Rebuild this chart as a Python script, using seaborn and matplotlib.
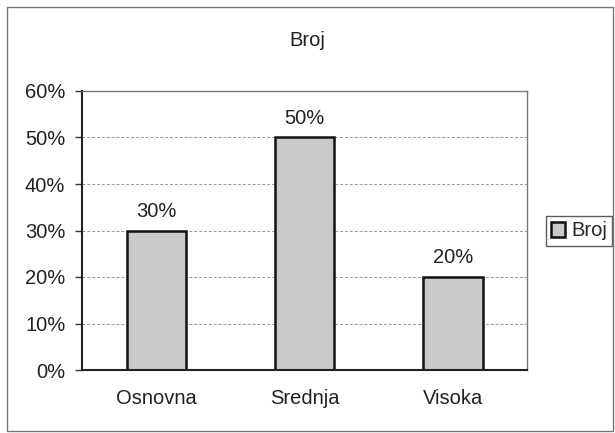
import matplotlib
matplotlib.use("Agg")
import matplotlib.pyplot as plt
import seaborn as sns
import pandas as pd
from matplotlib.patches import Rectangle
from matplotlib.ticker import FixedLocator, PercentFormatter

categories = ["Osnovna", "Srednja", "Visoka"]
values = [30, 50, 20]
series_name = "Broj"
title = "Broj"

sns.set_theme(style="white")
plt.rcParams['font.family'] = ['Liberation Sans', 'DejaVu Sans']

df = pd.DataFrame({"cat": categories, "val": values})

fig = plt.figure(figsize=(6.15, 4.33), dpi=100)
ax = fig.add_axes([82/615, 1-370/433, (527-82)/615, (370-91)/433])

sns.barplot(data=df, x="cat", y="val", ax=ax, color="#c9c9c9", edgecolor="#111111",
            linewidth=1.8, width=0.4, label=series_name, saturation=1)

ax.set_ylim(0, 60)
ax.set_xlim(-0.5, 2.5)
ax.set_yticks([0, 10, 20, 30, 40, 50, 60])
ax.yaxis.set_major_formatter(PercentFormatter(decimals=0))
ax.grid(axis="y", color="#999999", linestyle=(0, (3, 2)), linewidth=0.7)
ax.set_axisbelow(True)
ax.set_xlabel("")
ax.set_ylabel("")

# category boundary ticks
ax.xaxis.set_major_locator(FixedLocator([0, 1, 2]))
ax.xaxis.set_minor_locator(FixedLocator([-0.5, 0.5, 1.5, 2.5]))
ax.tick_params(axis="x", which="major", length=0, pad=14, labelsize=14.5, colors="#222222")
ax.tick_params(axis="x", which="minor", length=5, width=1, color="#333333", direction="out")
ax.tick_params(axis="y", length=5, width=1, color="#333333", direction="out", labelsize=14.5,
               pad=7, labelcolor="#222222", left=True)

for s in ["left", "bottom"]:
    ax.spines[s].set_color("#222222")
    ax.spines[s].set_linewidth(1.5)
for s in ["top", "right"]:
    ax.spines[s].set_color("#777777")
    ax.spines[s].set_linewidth(1.0)
    ax.spines[s].set_visible(True)

for cont in ax.containers:
    ax.bar_label(cont, labels=[f"{v}%" for v in values], padding=7, fontsize=14.5, color="#222222")

fig.text(307/615, 1-40/433, title, ha="center", va="center", fontsize=14.5, color="#222222")

leg = ax.legend(loc="center left", bbox_to_anchor=(546/615, 1-231/433), bbox_transform=fig.transFigure,
                frameon=True, fontsize=14.5, handlelength=0.7, handleheight=0.7, handletextpad=0.3,
                borderpad=0.25, fancybox=False, borderaxespad=0)
leg.get_frame().set_edgecolor("#333333")
leg.get_frame().set_linewidth(1.0)

fig.patches.append(Rectangle((7/615, 1-431/433), 606/615, 424/433, transform=fig.transFigure,
                             fill=False, edgecolor="#777777", linewidth=1.0))

fig.savefig("out.png", dpi=100)
